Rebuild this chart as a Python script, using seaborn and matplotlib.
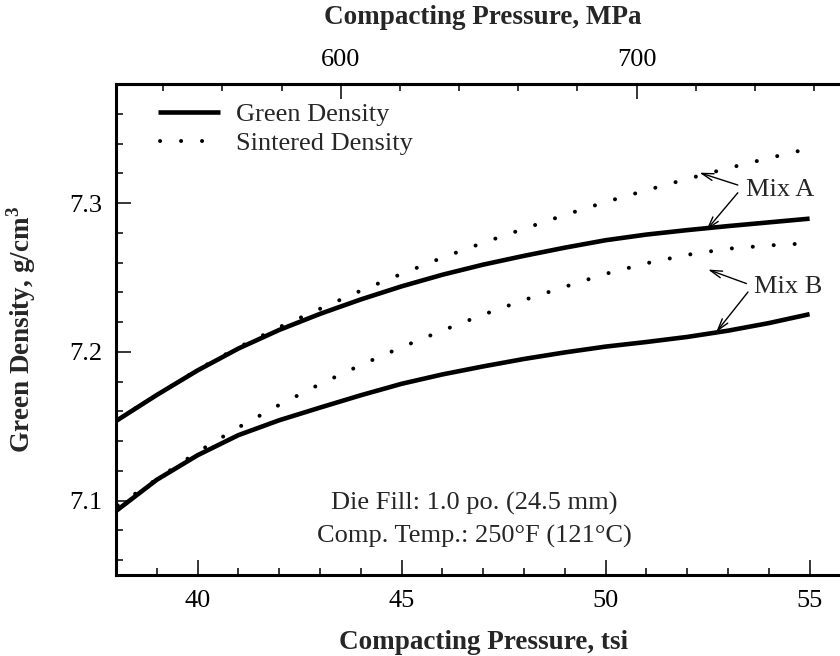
import numpy as np
import pandas as pd
import matplotlib
matplotlib.use("Agg")
import matplotlib.pyplot as plt
import seaborn as sns
from matplotlib.ticker import MultipleLocator, FixedLocator, FormatStrFormatter

# ---- data ----
tsi = [38, 39, 40, 41, 42, 43, 44, 45, 46, 47, 48, 49, 50, 51, 52, 53, 54, 55]
green_a = [7.1535, 7.1710, 7.1875, 7.2022, 7.2147, 7.2255, 7.2352, 7.2440, 7.2518, 7.2586,
           7.2645, 7.2700, 7.2750, 7.2788, 7.2818, 7.2845, 7.2870, 7.2895]
sint_a = [7.154, 7.171, 7.188, 7.203, 7.2165, 7.2289, 7.2411, 7.2524, 7.2633, 7.2733,
          7.2827, 7.292, 7.3007, 7.3086, 7.3162, 7.3234, 7.3302, 7.3367]
green_b = [7.0930, 7.1140, 7.1305, 7.1440, 7.1540, 7.1625, 7.1708, 7.1785, 7.1848, 7.1902,
           7.1952, 7.1996, 7.2035, 7.2066, 7.2100, 7.2142, 7.2193, 7.2253]
sint_b = [7.096, 7.1143, 7.1327, 7.1492, 7.1643, 7.1783, 7.1911, 7.2031, 7.2143, 7.225,
          7.2348, 7.2437, 7.2524, 7.2595, 7.2652, 7.2693, 7.2715, 7.2730]
mpa_ticks = [600, 700]
legend_labels = ["Green Density", "Sintered Density"]
MPA_PER_TSI = 13.79

sns.set_theme(style="ticks")
plt.rcParams["font.family"] = ["Liberation Serif", "DejaVu Serif"]
plt.rcParams["mathtext.fontset"] = "custom"
plt.rcParams["mathtext.rm"] = "Liberation Serif"
plt.rcParams["mathtext.bf"] = "Liberation Serif:bold"

FS = 19
fig = plt.figure(figsize=(8.4, 6.56), dpi=100)
ax = fig.add_axes([116 / 840, 81 / 656, 734.4 / 840, 491 / 656])

green_kw = dict(color="black", lw=3.3, solid_capstyle="butt", solid_joinstyle="round")
dot_kw = dict(color="black", lw=2.9, linestyle=(4.7, (0.01, 5.2)), dash_capstyle="round")

sns.lineplot(x=tsi, y=green_a, ax=ax, **green_kw)
sns.lineplot(x=tsi, y=sint_a, ax=ax, **dot_kw)
sns.lineplot(x=tsi, y=green_b, ax=ax, **green_kw)
sns.lineplot(x=tsi, y=sint_b, ax=ax, **dot_kw)

lines = ax.get_lines()
leg = ax.legend(handles=[lines[0], lines[1]], labels=legend_labels,
                loc="upper left", bbox_to_anchor=(158 / 840, 1 - 103 / 656),
                bbox_transform=fig.transFigure, frameon=False, fontsize=FS,
                handlelength=2.35, handletextpad=0.62, labelspacing=0.2,
                borderpad=0, borderaxespad=0)

ax.set_xlim(38, 56)
ax.set_ylim(7.05, 7.38)

ax.xaxis.set_major_locator(MultipleLocator(5))
ax.xaxis.set_minor_locator(MultipleLocator(1))
ax.yaxis.set_major_locator(MultipleLocator(0.1))
ax.yaxis.set_minor_locator(MultipleLocator(0.02))
ax.yaxis.set_major_formatter(FormatStrFormatter("%.1f"))

for s in ax.spines.values():
    s.set_linewidth(2.2)
    s.set_color("black")

ax.tick_params(which="both", direction="in", colors="black", top=False, right=False,
               labelsize=FS, width=1.1)
ax.tick_params(which="major", length=10.5)
ax.tick_params(which="minor", length=5.3)
ax.tick_params(axis="y", which="major", pad=10)
ax.tick_params(axis="x", which="major", pad=11)

secax = ax.secondary_xaxis("top", functions=(lambda t: np.asarray(t) * MPA_PER_TSI,
                                             lambda m: np.asarray(m) / MPA_PER_TSI))
secax.xaxis.set_major_locator(FixedLocator(mpa_ticks))
secax.xaxis.set_minor_locator(MultipleLocator(20))
secax.tick_params(which="both", direction="in", colors="black", labelsize=FS, width=1.1)
secax.tick_params(which="major", length=10.5, pad=9)
secax.tick_params(which="minor", length=5.3)
secax.spines["top"].set_linewidth(2.2)
secax.set_xlabel("Compacting Pressure, MPa", fontsize=19.5, fontweight="bold", labelpad=18)

ax.set_xlabel("Compacting Pressure, tsi", fontsize=19.5, fontweight="bold", labelpad=13)
ax.set_ylabel(r"Green Density, g/cm$^\mathbf{3}$", fontsize=19.5, fontweight="bold")
ax.yaxis.set_label_coords(-0.106, 0.5)

# annotations
arrow = dict(arrowstyle="->,head_length=0.85,head_width=0.25", lw=1.0, color="black",
             shrinkA=0, shrinkB=0, mutation_scale=10)
ax.text(53.45, 7.3088, "Mix A", fontsize=FS, ha="left", va="center")
ax.annotate("", xy=(52.30, 7.3204), xytext=(53.24, 7.3121), arrowprops=arrow)
ax.annotate("", xy=(52.47, 7.2818), xytext=(53.24, 7.3069), arrowprops=arrow)
ax.text(53.63, 7.2436, "Mix B", fontsize=FS, ha="left", va="center")
ax.annotate("", xy=(52.51, 7.2553), xytext=(53.45, 7.2459), arrowprops=arrow)
ax.annotate("", xy=(52.71, 7.2132), xytext=(53.49, 7.2402), arrowprops=arrow)

ax.text(46.79, 7.0984, "Die Fill: 1.0 po. (24.5 mm)", fontsize=FS, ha="center", va="center")
ax.text(46.79, 7.0761, "Comp. Temp.: 250\u00b0F (121\u00b0C)", fontsize=FS, ha="center", va="center")

fig.savefig("out.png", dpi=100)
